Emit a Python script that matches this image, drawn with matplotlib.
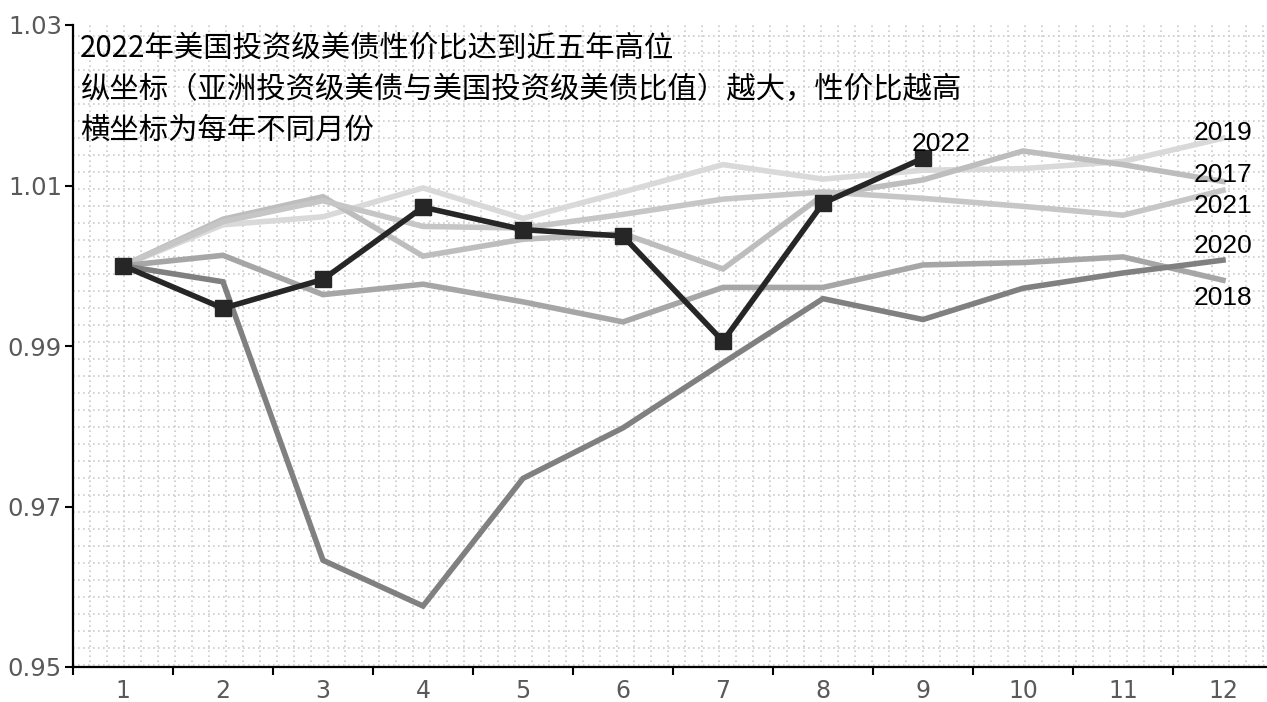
import matplotlib
matplotlib.use('Agg')
import matplotlib.pyplot as plt
from matplotlib.collections import LineCollection
from matplotlib.ticker import FixedLocator, NullFormatter

# months on the category axis
months = list(range(1, 13))

# ratio Asia IG / US IG, one list per year
y2017 = [1.000, 1.0058, 1.0086, 1.0012, 1.0033, 1.0040, 0.9996, 1.0088, 1.0107, 1.0143, 1.0126, 1.0105]
y2018 = [1.000, 1.0013, 0.9964, 0.9977, 0.9955, 0.9930, 0.9973, 0.9973, 1.0001, 1.0004, 1.0011, 0.9982]
y2019 = [1.000, 1.0051, 1.0061, 1.0097, 1.0059, 1.0092, 1.0126, 1.0108, 1.0119, 1.0121, 1.0130, 1.0159]
y2020 = [1.000, 0.9980, 0.9633, 0.9576, 0.9735, 0.9798, 0.9879, 0.9959, 0.9933, 0.9972, 0.9991, 1.0007]
y2021 = [1.000, 1.0055, 1.0081, 1.0049, 1.0047, 1.0064, 1.0083, 1.0092, 1.0084, 1.0074, 1.0063, 1.0094]
y2022 = [1.000, 0.9947, 0.9983, 1.0073, 1.0045, 1.0037, 0.9906, 1.0078, 1.0134]

yticks = [0.95, 0.97, 0.99, 1.01, 1.03]
ytick_labels = ['0.95', '0.97', '0.99', '1.01', '1.03']

title_lines = [
    '2022年美国投资级美债性价比达到近五年高位',
    '纵坐标（亚洲投资级美债与美国投资级美债比值）越大，性价比越高',
    '横坐标为每年不同月份',
]

W, H = 1267, 702
fig = plt.figure(figsize=(W / 100, H / 100), dpi=100)
ax_l, ax_b, ax_w, ax_h = 73, 35, 1200, 642
ax = fig.add_axes([ax_l / W, ax_b / H, ax_w / W, ax_h / H])
ax.set_xlim(0.5, 12.5)
ax.set_ylim(0.95, 1.03)

# dotted background pattern, fixed 17px pitch like the original pattern fill
step = 17
segs = []
px = step
while px < ax_w:
    segs.append([(px / ax_w, 0), (px / ax_w, 1)])
    px += step
py = 2
while py < ax_h:
    segs.append([(0, py / ax_h), (1, py / ax_h)])
    py += step
grid = LineCollection(segs, transform=ax.transAxes, colors='#cccccc',
                      linewidths=1.2, linestyles=[(0, (1, 2))], zorder=0)
ax.add_collection(grid)

series = [
    ('2019', y2019, '#d9d9d9', 3.5, 0),
    ('2017', y2017, '#bdbdbd', 5, 0),
    ('2021', y2021, '#c6c6c6', -11, 0),
    ('2018', y2018, '#a6a6a6', -12.5, 0),
    ('2020', y2020, '#808080', 10, 0),
]
for name, vals, col, dy, dx in series:
    ax.plot(months[:len(vals)], vals, color=col, lw=4, solid_joinstyle='miter', zorder=2)
    ax.annotate(name, (months[len(vals) - 1], vals[-1]), xytext=(dx, dy),
                textcoords='offset points', ha='center', va='center',
                fontsize=19, family='Liberation Sans', color='black', zorder=5)

ax.plot(months[:len(y2022)], y2022, color='#262626', lw=4, marker='s',
        markersize=11, solid_joinstyle='miter', zorder=4)
ax.annotate('2022', (months[len(y2022) - 1], y2022[-1]), xytext=(13, 10.5),
            textcoords='offset points', ha='center', va='center',
            fontsize=19, family='Liberation Sans', color='black', zorder=5)

# axes styling
for s in ['top', 'right']:
    ax.spines[s].set_visible(False)
for s in ['left', 'bottom']:
    ax.spines[s].set_linewidth(1.6)
    ax.spines[s].set_color('black')

ax.set_yticks(yticks)
ax.set_yticklabels(ytick_labels)
ax.tick_params(axis='y', direction='out', length=6, width=1.5, pad=2,
               labelsize=17.5, labelcolor='#595959')

ax.xaxis.set_major_locator(FixedLocator([m - 0.5 for m in months] + [12.5]))
ax.xaxis.set_major_formatter(NullFormatter())
ax.xaxis.set_minor_locator(FixedLocator(months))
ax.set_xticklabels([str(m) for m in months], minor=True)
ax.tick_params(axis='x', which='major', direction='out', length=6, width=1.5)
ax.tick_params(axis='x', which='minor', length=0, pad=9, labelsize=17,
               labelcolor='#595959')

# title block inside the plot area
for i, line in enumerate(title_lines):
    fig.text(80 / W, 1 - (48 + 41 * i) / H, line, ha='left', va='center',
             fontsize=21.2, family=['Noto Sans CJK SC', 'DejaVu Sans'], color='black')

fig.savefig('out.png', dpi=100)
